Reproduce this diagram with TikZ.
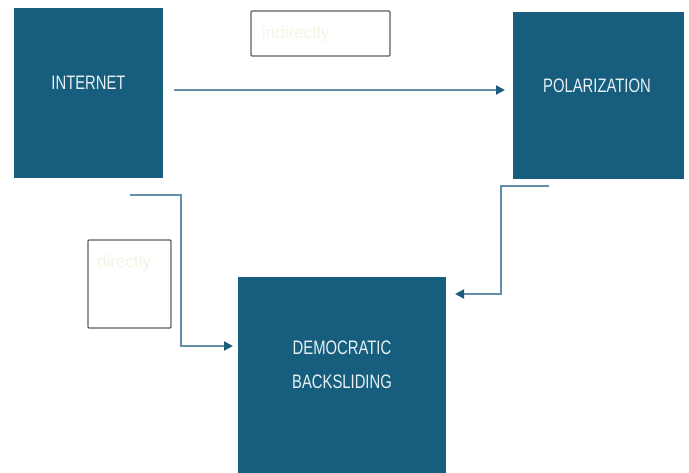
\documentclass[tikz,border=0pt]{standalone}
\usepackage{fontspec}
\setmainfont{Liberation Sans}[FakeStretch=0.76]
\newfontfamily\labelfont{Liberation Sans}
\usetikzlibrary{arrows.meta}
\definecolor{boxblue}{RGB}{23,94,126}
\definecolor{linkblue}{RGB}{98,142,172}
\definecolor{tipblue}{RGB}{30,92,125}
\definecolor{boxtext}{RGB}{232,240,244}
\definecolor{faint}{RGB}{244,244,228}
\definecolor{labelgray}{RGB}{95,95,95}
\tikzset{
  concept/.style={fill=boxblue, draw=none, minimum width=#1, inner sep=0pt, outer sep=0pt},
  concepttext/.style={text=boxtext, font=\fontsize{19.5}{34}\selectfont, align=center, inner sep=0pt},
  labelbox/.style={draw=labelgray, line width=1.3pt, fill=white, inner sep=0pt, rounded corners=1pt},
  labeltext/.style={text=faint, font=\labelfont\fontsize{17}{19}\selectfont, inner sep=0pt},
  link/.style={draw=linkblue, line width=1.8pt, -{Triangle[length=9pt,width=9pt,color=tipblue]}},
}
\begin{document}
\begin{tikzpicture}[x=1pt,y=-1pt]
\useasboundingbox (0,0) rectangle (689,472);
\clip (0,0) rectangle (689,472);
% boxes
\node[concept=149pt, minimum height=170pt] (internet) at (88.5,93) {};
\node[concepttext] (internetT) at (88.5,83) {INTERNET};
\node[concept=171pt, minimum height=167pt] (polar) at (598.5,95.5) {};
\node[concepttext] (polarT) at (597,86) {POLARIZATION};
\node[concept=208pt, minimum height=200pt] (democ) at (342,377) {};
\node[concepttext] (democT) at (342,365) {DEMOCRATIC\\BACKSLIDING};
% label boxes
\node[labelbox, minimum width=139pt, minimum height=45pt] (lab1) at (320.5,33.5) {};
\node[labeltext, anchor=west] (lab1T) at (262,34) {indirectly};
\node[labelbox, minimum width=83pt, minimum height=88pt] (lab2) at (129.5,284) {};
\node[labeltext, anchor=west] (lab2T) at (97,263) {directly};
% connector coordinates
\coordinate (a1) at (174,90);
\coordinate (a2) at (505,90);
\coordinate (b1) at (130,195);
\coordinate (b2) at (181,195);
\coordinate (b3) at (181,346);
\coordinate (b4) at (233,346);
\coordinate (c1) at (549,186);
\coordinate (c2) at (501,186);
\coordinate (c3) at (501,294);
\coordinate (c4) at (455,294);
\draw[link] (a1) -- (a2);
\draw[link] (b1) -- (b2) -- (b3) -- (b4);
\draw[link] (c1) -- (c2) -- (c3) -- (c4);
\end{tikzpicture}
\end{document}
